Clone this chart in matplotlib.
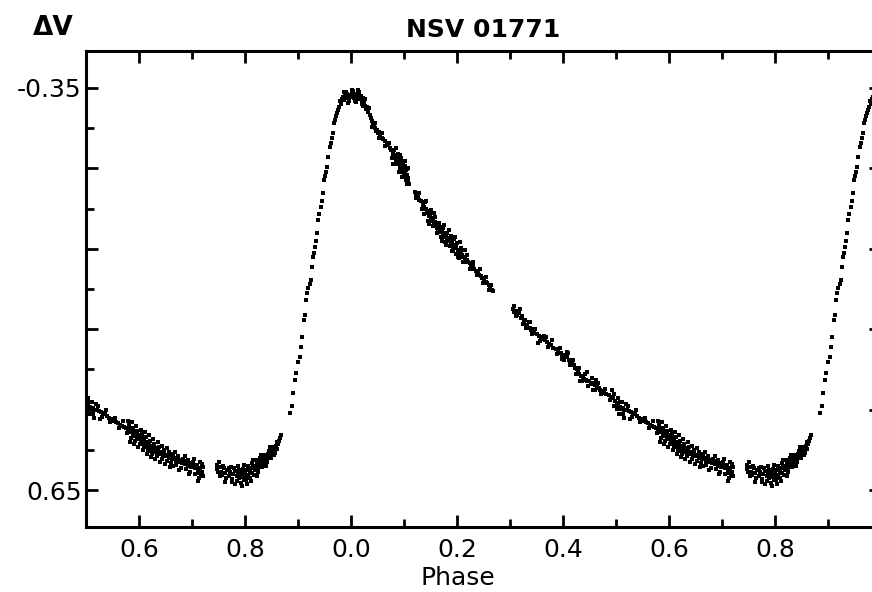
import matplotlib.pyplot as plt
import numpy as np

# curva de luz NSV 01771 (fase 0..1, delta V)
phase_max = [0.980, 0.983, 0.985, 0.987, 0.989, 0.991, 0.993, 0.995, 0.997, 0.999,
             0.001, 0.003, 0.005, 0.007, 0.009, 0.011, 0.013, 0.015, 0.017, 0.019,
             0.021, 0.023, 0.025, 0.027, 0.029, 0.031, 0.033, 0.035, 0.037, 0.039,
             0.041, 0.043, 0.045, 0.047, 0.049, 0.051, 0.053, 0.055, 0.058, 0.061,
             0.064, 0.067, 0.070, 0.073, 0.076, 0.079, 0.081, 0.083, 0.085, 0.087,
             0.089, 0.091, 0.093, 0.095, 0.097, 0.099, 0.101, 0.103, 0.105, 0.107,
             0.109]
dv_max = [-0.318, -0.322, -0.328, -0.320, -0.331, -0.326, -0.334, -0.329, -0.333, -0.327,
          -0.335, -0.330, -0.325, -0.333, -0.328, -0.336, -0.326, -0.331, -0.322, -0.329,
          -0.318, -0.324, -0.312, -0.306, -0.298, -0.302, -0.290, -0.282, -0.275, -0.268,
          -0.262, -0.255, -0.250, -0.244, -0.246, -0.238, -0.240, -0.232, -0.226, -0.224,
          -0.218, -0.212, -0.208, -0.200, -0.196, -0.186, -0.180, -0.184, -0.172, -0.176,
          -0.166, -0.170, -0.158, -0.162, -0.150, -0.154, -0.142, -0.146, -0.134, -0.126,
          -0.112]

phase_desc = [0.120, 0.123, 0.126, 0.129, 0.132, 0.135, 0.138, 0.141, 0.143, 0.145,
              0.147, 0.149, 0.151, 0.153, 0.155, 0.157, 0.159, 0.161, 0.163, 0.165,
              0.167, 0.169, 0.171, 0.173, 0.175, 0.177, 0.179, 0.181, 0.183, 0.185,
              0.187, 0.189, 0.191, 0.193, 0.195, 0.197, 0.199, 0.201, 0.203, 0.205,
              0.207, 0.209, 0.212, 0.215, 0.218, 0.221, 0.224, 0.227, 0.230, 0.233,
              0.236, 0.239, 0.242, 0.245, 0.248, 0.251, 0.254, 0.257, 0.260, 0.263,
              0.266, 0.268]
dv_desc = [-0.092, -0.086, -0.080, -0.072, -0.068, -0.060, -0.054, -0.048, -0.040, -0.044,
           -0.032, -0.036, -0.026, -0.022, -0.018, -0.012, -0.016, -0.006, -0.002, 0.002,
           -0.004, 0.008, 0.004, 0.014, 0.010, 0.020, 0.016, 0.026, 0.022, 0.030,
           0.028, 0.038, 0.034, 0.044, 0.040, 0.048, 0.046, 0.054, 0.052, 0.060,
           0.058, 0.066, 0.070, 0.074, 0.078, 0.082, 0.086, 0.092, 0.094, 0.100,
           0.104, 0.108, 0.114, 0.118, 0.122, 0.126, 0.132, 0.136, 0.140, 0.146,
           0.152, 0.156]

phase_fall = [0.305, 0.308, 0.311, 0.314, 0.317, 0.320, 0.323, 0.326, 0.329, 0.333,
              0.337, 0.340, 0.343, 0.346, 0.350, 0.354, 0.358, 0.362, 0.366, 0.370,
              0.374, 0.378, 0.382, 0.386, 0.390, 0.393, 0.396, 0.399, 0.402, 0.405,
              0.408, 0.411, 0.414, 0.417, 0.420, 0.423, 0.426, 0.428, 0.431, 0.434,
              0.437, 0.440, 0.443, 0.446, 0.449, 0.452, 0.455, 0.458, 0.461, 0.464,
              0.467, 0.470, 0.474, 0.478, 0.482, 0.486, 0.490, 0.494, 0.498, 0.501,
              0.504, 0.507, 0.510, 0.513, 0.516, 0.520, 0.524, 0.528, 0.532, 0.536,
              0.540, 0.544, 0.548, 0.552, 0.556, 0.560, 0.564, 0.568, 0.572, 0.576,
              0.579, 0.582, 0.584, 0.586, 0.588, 0.590, 0.592, 0.594, 0.596, 0.598,
              0.600, 0.602, 0.604, 0.606, 0.608, 0.610, 0.612, 0.614, 0.616, 0.618,
              0.620, 0.622, 0.624, 0.626, 0.628, 0.630, 0.633, 0.636, 0.639, 0.642,
              0.645, 0.648, 0.651, 0.654, 0.657, 0.660, 0.663, 0.666, 0.669, 0.672,
              0.675, 0.678, 0.681, 0.684, 0.687, 0.690, 0.693, 0.696, 0.699, 0.702,
              0.705, 0.708, 0.711, 0.713, 0.715, 0.717, 0.719, 0.721]
dv_fall = [0.200, 0.206, 0.204, 0.214, 0.210, 0.222, 0.218, 0.230, 0.226, 0.240,
           0.246, 0.252, 0.250, 0.260, 0.262, 0.268, 0.270, 0.274, 0.278, 0.282,
           0.286, 0.290, 0.296, 0.300, 0.304, 0.310, 0.308, 0.316, 0.314, 0.320,
           0.318, 0.326, 0.330, 0.336, 0.340, 0.346, 0.350, 0.356, 0.362, 0.366,
           0.370, 0.374, 0.376, 0.380, 0.378, 0.384, 0.386, 0.384, 0.390, 0.392,
           0.396, 0.400, 0.404, 0.408, 0.412, 0.414, 0.418, 0.422, 0.428, 0.434,
           0.440, 0.444, 0.448, 0.446, 0.452, 0.450, 0.454, 0.456, 0.458, 0.462,
           0.466, 0.470, 0.474, 0.478, 0.482, 0.484, 0.488, 0.490, 0.494, 0.496,
           0.500, 0.494, 0.506, 0.500, 0.512, 0.504, 0.516, 0.508, 0.520, 0.512,
           0.524, 0.516, 0.528, 0.520, 0.532, 0.526, 0.538, 0.530, 0.542, 0.534,
           0.546, 0.540, 0.550, 0.544, 0.552, 0.546, 0.556, 0.550, 0.560, 0.556,
           0.564, 0.558, 0.566, 0.562, 0.570, 0.566, 0.574, 0.570, 0.578, 0.572,
           0.580, 0.576, 0.584, 0.578, 0.586, 0.582, 0.590, 0.584, 0.592, 0.588,
           0.596, 0.590, 0.600, 0.608, 0.596, 0.612, 0.604, 0.592]

phase_min = [0.747, 0.749, 0.752, 0.755, 0.757, 0.760, 0.763, 0.766, 0.769, 0.772,
             0.775, 0.778, 0.781, 0.784, 0.786, 0.788, 0.790, 0.792, 0.794, 0.796,
             0.798, 0.800, 0.802, 0.804, 0.806, 0.808, 0.810, 0.812, 0.814, 0.816,
             0.818, 0.820, 0.822, 0.824, 0.826, 0.828, 0.830, 0.832, 0.834, 0.836,
             0.838, 0.840, 0.842, 0.844, 0.846, 0.848, 0.850, 0.852, 0.854, 0.856,
             0.858, 0.860, 0.862, 0.864, 0.866, 0.868]
dv_min = [0.598, 0.606, 0.592, 0.604, 0.612, 0.596, 0.608, 0.600, 0.616, 0.606,
          0.622, 0.610, 0.602, 0.616, 0.608, 0.620, 0.612, 0.604, 0.618, 0.610,
          0.624, 0.606, 0.614, 0.600, 0.612, 0.598, 0.606, 0.594, 0.608, 0.590,
          0.600, 0.592, 0.584, 0.596, 0.586, 0.578, 0.588, 0.576, 0.582, 0.570,
          0.578, 0.566, 0.572, 0.560, 0.566, 0.556, 0.560, 0.550, 0.556, 0.546,
          0.540, 0.548, 0.536, 0.528, 0.520, 0.514]

phase_rise = [0.885, 0.888, 0.891, 0.894, 0.897, 0.900, 0.903, 0.906, 0.908, 0.911,
              0.913, 0.915, 0.917, 0.919, 0.922, 0.925, 0.926, 0.928, 0.930, 0.932,
              0.934, 0.936, 0.938, 0.940, 0.943, 0.945, 0.947, 0.949, 0.951, 0.953,
              0.955, 0.957, 0.960, 0.962, 0.964, 0.966, 0.968, 0.970, 0.972, 0.974,
              0.976, 0.978]
dv_rise = [0.458, 0.440, 0.409, 0.376, 0.360, 0.332, 0.318, 0.294, 0.269, 0.227,
           0.215, 0.177, 0.160, 0.148, 0.138, 0.128, 0.095, 0.070, 0.060, 0.046,
           0.030, 0.011, -0.022, -0.036, -0.054, -0.070, -0.089, -0.121, -0.132, -0.140,
           -0.153, -0.178, -0.203, -0.214, -0.225, -0.238, -0.263, -0.270, -0.280, -0.288,
           -0.296, -0.303]

# pontos dispersos (ruido visivel na banda)
phase_scat = [0.982, 0.990, 0.996, 0.004, 0.010, 0.016, 0.022, 0.026,
              0.034, 0.040, 0.046, 0.052, 0.059, 0.065, 0.072, 0.078, 0.082, 0.086,
              0.088, 0.092, 0.094, 0.096, 0.098, 0.100, 0.102, 0.104, 0.106, 0.108,
              0.122, 0.128, 0.134, 0.140, 0.146, 0.150, 0.154, 0.158, 0.162, 0.166,
              0.170, 0.174, 0.178, 0.182, 0.186, 0.188, 0.192, 0.194, 0.198, 0.200,
              0.204, 0.208, 0.213, 0.219, 0.225, 0.231, 0.237, 0.243, 0.249, 0.255,
              0.261, 0.265,
              0.307, 0.312, 0.318, 0.324, 0.331, 0.335, 0.341, 0.348, 0.356, 0.364,
              0.372, 0.380, 0.388, 0.395, 0.401, 0.407, 0.413, 0.419, 0.425, 0.430,
              0.436, 0.442, 0.448, 0.454, 0.460, 0.466, 0.472, 0.480, 0.488, 0.496,
              0.502, 0.508, 0.514, 0.522, 0.530, 0.538, 0.546, 0.554, 0.562, 0.570,
              0.577, 0.581, 0.585, 0.589, 0.593, 0.597, 0.601, 0.605, 0.609, 0.613,
              0.617, 0.621, 0.625, 0.629, 0.634, 0.638, 0.643, 0.647, 0.652, 0.656,
              0.661, 0.665, 0.670, 0.674, 0.679, 0.683, 0.688, 0.692, 0.697, 0.701,
              0.706, 0.710, 0.714, 0.718,
              0.748, 0.753, 0.758, 0.764, 0.770, 0.776, 0.780, 0.785, 0.789, 0.793,
              0.797, 0.801, 0.805, 0.809, 0.813, 0.817, 0.821, 0.825, 0.829, 0.833,
              0.837, 0.841, 0.845, 0.849, 0.853, 0.857, 0.861]
dv_scat = [-0.310, -0.340, -0.318, -0.342, -0.316, -0.340, -0.306, -0.322,
           -0.300, -0.252, -0.262, -0.226, -0.238, -0.206, -0.214, -0.176, -0.196, -0.160,
           -0.186, -0.148, -0.176, -0.140, -0.166, -0.130, -0.156, -0.122, -0.148, -0.118,
           -0.076, -0.088, -0.048, -0.066, -0.020, -0.046, -0.006, -0.028, 0.010, -0.014,
           0.020, -0.002, 0.032, 0.010, 0.044, 0.018, 0.054, 0.026, 0.062, 0.036,
           0.072, 0.048, 0.084, 0.066, 0.100, 0.082, 0.116, 0.100, 0.134, 0.120,
           0.152, 0.140,
           0.192, 0.218, 0.200, 0.238, 0.246, 0.232, 0.262, 0.250, 0.280, 0.266,
           0.294, 0.278, 0.312, 0.296, 0.326, 0.306, 0.340, 0.326, 0.362, 0.346,
           0.380, 0.362, 0.392, 0.372, 0.400, 0.384, 0.412, 0.398, 0.426, 0.410,
           0.448, 0.432, 0.460, 0.440, 0.468, 0.450, 0.482, 0.470, 0.496, 0.478,
           0.508, 0.486, 0.520, 0.496, 0.528, 0.502, 0.536, 0.510, 0.544, 0.518,
           0.552, 0.528, 0.560, 0.536, 0.566, 0.542, 0.572, 0.550, 0.578, 0.556,
           0.584, 0.560, 0.588, 0.566, 0.594, 0.572, 0.598, 0.576, 0.604, 0.580,
           0.610, 0.588, 0.620, 0.586,
           0.588, 0.614, 0.590, 0.620, 0.596, 0.630, 0.596, 0.628, 0.600, 0.632,
           0.598, 0.626, 0.590, 0.620, 0.584, 0.612, 0.576, 0.604, 0.570, 0.592,
           0.562, 0.580, 0.552, 0.570, 0.542, 0.558, 0.530]

# aglomerados mais densos, com dispersao maior
phase_clump = [0.579, 0.583, 0.587, 0.591, 0.595, 0.599, 0.603, 0.607, 0.611, 0.615,
               0.619, 0.623, 0.627, 0.631, 0.635, 0.640, 0.644, 0.649, 0.653, 0.658,
               0.492, 0.497, 0.503, 0.506, 0.511, 0.515, 0.519, 0.526,
               0.664, 0.668, 0.676, 0.686, 0.694, 0.704, 0.712, 0.716, 0.720,
               0.750, 0.762, 0.774, 0.782, 0.787, 0.795, 0.799, 0.803, 0.811, 0.815,
               0.823, 0.831, 0.839, 0.847, 0.855,
               0.986, 0.994, 0.002, 0.008, 0.014, 0.020,
               0.080, 0.084, 0.090, 0.093, 0.097, 0.101, 0.105, 0.107,
               0.172, 0.176, 0.180, 0.184, 0.190, 0.196, 0.202, 0.206, 0.211, 0.216,
               0.137, 0.142, 0.148, 0.156,
               0.338, 0.352, 0.368, 0.398, 0.410, 0.432, 0.445, 0.457, 0.463]
dv_clump = [0.478, 0.530, 0.482, 0.536, 0.490, 0.544, 0.500, 0.550, 0.506, 0.560,
            0.512, 0.568, 0.522, 0.574, 0.530, 0.580, 0.540, 0.586, 0.546, 0.592,
            0.402, 0.440, 0.420, 0.462, 0.430, 0.470, 0.436, 0.474,
            0.590, 0.556, 0.600, 0.566, 0.610, 0.574, 0.628, 0.580, 0.616,
            0.580, 0.630, 0.592, 0.636, 0.590, 0.640, 0.588, 0.634, 0.628, 0.576,
            0.614, 0.562, 0.590, 0.544, 0.564,
            -0.340, -0.312, -0.344, -0.318, -0.344, -0.310,
            -0.160, -0.200, -0.140, -0.184, -0.128, -0.168, -0.110, -0.152,
            0.030, -0.010, 0.040, 0.004, 0.056, 0.020, 0.070, 0.034, 0.082, 0.054,
            -0.036, -0.070, -0.012, -0.040,
            0.232, 0.284, 0.270, 0.324, 0.308, 0.378, 0.356, 0.400, 0.376]

x_ticks = [-0.4, -0.2, 0.0, 0.2, 0.4, 0.6, 0.8]
x_labels = ["0.6", "0.8", "0.0", "0.2", "0.4", "0.6", "0.8"]
y_ticks = [-0.35, -0.15, 0.05, 0.25, 0.45, 0.65]
y_labels = ["-0.35", "", "", "", "", "0.65"]

ph = np.array(phase_max + phase_desc + phase_fall + phase_min + phase_rise
              + phase_scat + phase_clump)
dv = np.array(dv_max + dv_desc + dv_fall + dv_min + dv_rise + dv_scat + dv_clump)

fig = plt.figure(figsize=(8.72, 5.92), dpi=100)
ax = fig.add_axes([86 / 872, 65 / 592, 795 / 872, 476 / 592])

# duas copias do ciclo: fase e fase-1
for shift in (0, -1):
    ax.plot(ph + shift, dv, 's', color='black', ms=2.3, mew=0)

ax.set_xlim(-0.5, 1.0)
ax.set_ylim(0.742, -0.442)

ax.set_xticks(x_ticks)
ax.set_xticklabels(x_labels)
ax.set_xticks([-0.3, -0.1, 0.1, 0.3, 0.5, 0.7, 0.9], minor=True)
ax.set_yticks(y_ticks)
ax.set_yticklabels(y_labels)
ax.set_yticks([-0.25, -0.05, 0.15, 0.35, 0.55], minor=True)

for s in ax.spines.values():
    s.set_linewidth(2.2)
ax.tick_params(which='both', direction='in', top=True, right=True, width=2.0,
               labelsize=18)
ax.tick_params(axis='x', pad=8)
ax.tick_params(axis='y', pad=3)
ax.tick_params(which='major', length=8.5)
ax.tick_params(which='minor', length=6)
for lab in ax.get_xticklabels() + ax.get_yticklabels():
    lab.set_family('DejaVu Sans')

ax.set_title("NSV 01771", fontsize=18, fontweight='bold', pad=10)
fig.text(458 / 872, 1 - 578 / 592, "Phase", ha='center', va='center', fontsize=18)
fig.text(53 / 872, 1 - 28 / 592, "\u0394V", ha='center', va='center', fontsize=19,
         fontweight='bold')

plt.savefig("out.png", dpi=100)
